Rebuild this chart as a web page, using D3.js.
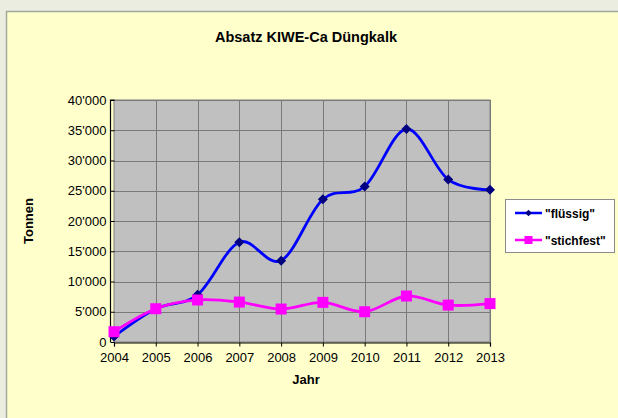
<!DOCTYPE html>
<html><head><meta charset="utf-8">
<script src="https://cdn.jsdelivr.net/npm/d3@7"></script>
<style>
html,body{margin:0;padding:0;background:#EBEDE1;}
svg{display:block;font-family:"Liberation Sans",Arial,sans-serif;}
</style></head><body>
<script>
const years = [2004,2005,2006,2007,2008,2009,2010,2011,2012,2013];
const fluessig = [900,5500,7800,16500,13450,23600,25700,35200,26850,25150];
const stichfest = [1700,5500,6950,6600,5450,6550,5000,7600,6100,6350];
const yTicks = [0,5000,10000,15000,20000,25000,30000,35000,40000];
const seriesNames = ['"flüssig"','"stichfest"'];

const W=618,H=418;
const svg=d3.select("body").append("svg").attr("width",W).attr("height",H);
svg.append("rect").attr("x",6.5).attr("y",11.5).attr("width",W).attr("height",H)
  .attr("fill","#FFFFCC").attr("stroke","#A0A89A").attr("stroke-width",1.5);

const x=d3.scalePoint().domain(years).range([114,490]);
const y=d3.scaleLinear().domain([0,40000]).range([342,100]);

svg.append("rect").attr("x",114).attr("y",100).attr("width",376).attr("height",242)
  .attr("fill","#C0C0C0").attr("stroke","#808080").attr("stroke-width",1);

const g=svg.append("g");
g.selectAll(".hg").data(yTicks.slice(1)).enter().append("line")
  .attr("x1",114).attr("x2",490).attr("y1",d=>Math.round(y(d))+0.5).attr("y2",d=>Math.round(y(d))+0.5)
  .attr("stroke","#7A7A7A").attr("stroke-width",1);
g.selectAll(".vg").data(years.slice(1)).enter().append("line")
  .attr("y1",100).attr("y2",342).attr("x1",d=>Math.round(x(d))+0.5).attr("x2",d=>Math.round(x(d))+0.5)
  .attr("stroke","#7A7A7A").attr("stroke-width",1);

const fmt=d=>d===0?"0":d3.format(",")(d).replace(/,/g,"'");
const ya=d3.axisLeft(y).tickValues(yTicks).tickFormat(fmt).tickSize(4).tickPadding(4);
const yg=svg.append("g").attr("transform","translate(114.5,0)").call(ya);
const xa=d3.axisBottom(x).tickSize(4).tickPadding(6).tickFormat(d=>d);
const xg=svg.append("g").attr("transform","translate(0,342.5)").call(xa);
[yg,xg].forEach(a=>{
  a.select(".domain").attr("stroke","#000").attr("stroke-width",1.2);
  a.selectAll(".tick line").attr("stroke","#000");
  a.selectAll("text").attr("font-size",13).attr("fill","#000").attr("font-family","Liberation Sans, Arial, sans-serif");
});
yg.select(".domain").attr("d","M-4,342V100H0");
xg.selectAll(".tick line").attr("y1",0);

const line=d3.line().x((d,i)=>x(years[i])).y(d=>y(d)).curve(d3.curveCatmullRom.alpha(0));
svg.append("path").datum(fluessig).attr("d",line).attr("fill","none").attr("stroke","#0000FF").attr("stroke-width",2.8);
svg.append("path").datum(stichfest).attr("d",line).attr("fill","none").attr("stroke","#FF00FF").attr("stroke-width",2.8);

svg.selectAll(".dm").data(fluessig).enter().append("path")
  .attr("d",d3.symbol().type(d3.symbolSquare).size(50))
  .attr("transform",(d,i)=>`translate(${x(years[i])},${y(d)}) rotate(45)`)
  .attr("fill","#000080");
svg.selectAll(".sq").data(stichfest).enter().append("rect")
  .attr("x",(d,i)=>x(years[i])-5.5).attr("y",d=>y(d)-5.5).attr("width",11).attr("height",11)
  .attr("fill","#FF00FF");

svg.append("text").attr("x",306).attr("y",42).attr("text-anchor","middle")
  .attr("font-size",14.5).attr("font-weight","bold").text("Absatz KIWE-Ca Düngkalk");
svg.append("text").attr("x",306).attr("y",384).attr("text-anchor","middle")
  .attr("font-size",13).attr("font-weight","bold").text("Jahr");
svg.append("text").attr("transform","translate(33,221) rotate(-90)").attr("text-anchor","middle")
  .attr("font-size",13).attr("font-weight","bold").text("Tonnen");

const lg=svg.append("g");
lg.append("rect").attr("x",505.5).attr("y",199.5).attr("width",109).attr("height",53)
  .attr("fill","#FFFFFF").attr("stroke","#8C8C8C");
const ly=[213,240];
const cols=["#0000FF","#FF00FF"];
ly.forEach((yy,i)=>{
  lg.append("line").attr("x1",515).attr("x2",542).attr("y1",yy).attr("y2",yy).attr("stroke",cols[i]).attr("stroke-width",2.5);
  if(i===0) lg.append("path").attr("d",d3.symbol().type(d3.symbolSquare).size(22)).attr("transform",`translate(528.5,${yy}) rotate(45)`).attr("fill","#000080");
  else lg.append("rect").attr("x",524.5).attr("y",yy-4).attr("width",8).attr("height",8).attr("fill","#FF00FF");
  lg.append("text").attr("x",545).attr("y",yy+4.5).attr("font-size",12).attr("font-weight","bold").text(seriesNames[i]);
});
</script>
</body></html>
